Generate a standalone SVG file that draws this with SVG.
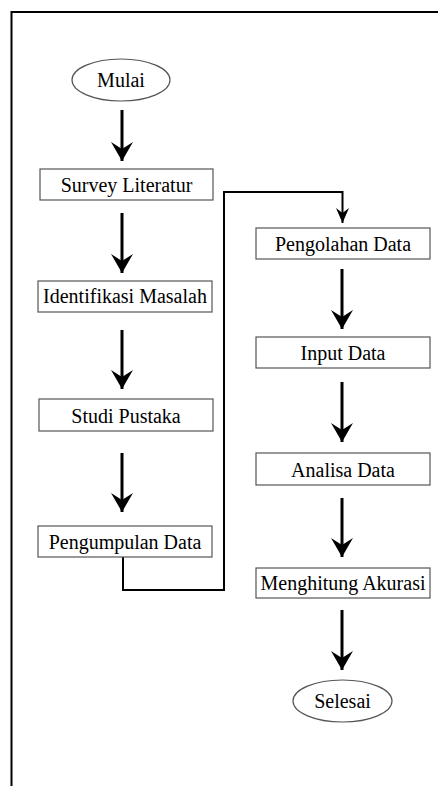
<svg xmlns="http://www.w3.org/2000/svg" width="439" height="786" viewBox="0 0 439 786">
<style>
  .box { fill: #fff; stroke: #555; stroke-width: 1.2; }
  .lbl { font-family: 'Liberation Serif', 'Times New Roman', serif; font-size: 20px; fill: #000; text-anchor: middle; }
  .arr { stroke: #000; stroke-width: 3; fill: none; marker-end: url(#big); }
  .conn { stroke: #000; stroke-width: 2; fill: none; }
</style>
<defs>
  <marker id="big" markerUnits="userSpaceOnUse" markerWidth="20" markerHeight="24" viewBox="0 -12 20 24" refX="19" refY="0" orient="auto">
    <path d="M0,-11 L19,0 L0,11 L7,0 Z" fill="#000"/>
  </marker>
  <marker id="small" markerUnits="userSpaceOnUse" markerWidth="16" markerHeight="14" viewBox="0 -7 16 14" refX="15" refY="0" orient="auto">
    <path d="M0,-6.5 L15,0 L0,6.5 L5,0 Z" fill="#000"/>
  </marker>
</defs>
<rect width="439" height="786" fill="#fff"/>
<path d="M11.5,786 V12 H438" fill="none" stroke="#000" stroke-width="2"/>

<g id="connectors">
  <line class="arr" x1="122" y1="110" x2="122" y2="161"/>
  <line class="arr" x1="122" y1="213" x2="122" y2="273"/>
  <line class="arr" x1="122" y1="330" x2="122" y2="389"/>
  <line class="arr" x1="122" y1="453" x2="122" y2="512"/>
  <line class="arr" x1="342" y1="269" x2="342" y2="329"/>
  <line class="arr" x1="342" y1="382" x2="342" y2="442"/>
  <line class="arr" x1="342" y1="498" x2="342" y2="557"/>
  <line class="arr" x1="342" y1="610" x2="342" y2="670"/>
  <path class="conn" d="M123,557 V590 H224 V192 H342.5 V223" marker-end="url(#small)"/>
</g>

<g id="mulai">
  <ellipse class="box" cx="121" cy="80" rx="49" ry="21"/>
  <text class="lbl" x="121" y="87">Mulai</text>
</g>
<g id="survey">
  <rect class="box" x="40" y="169" width="173" height="31"/>
  <text class="lbl" x="126.5" y="192">Survey Literatur</text>
</g>
<g id="identifikasi">
  <rect class="box" x="38" y="281" width="174" height="31"/>
  <text class="lbl" x="125" y="303">Identifikasi Masalah</text>
</g>
<g id="studi">
  <rect class="box" x="39" y="399" width="174" height="32"/>
  <text class="lbl" x="126" y="423">Studi Pustaka</text>
</g>
<g id="pengumpulan">
  <rect class="box" x="38" y="526" width="174" height="31"/>
  <text class="lbl" x="125" y="549">Pengumpulan Data</text>
</g>
<g id="pengolahan">
  <rect class="box" x="256" y="228" width="174" height="31"/>
  <text class="lbl" x="343" y="251">Pengolahan Data</text>
</g>
<g id="input">
  <rect class="box" x="256" y="337" width="174" height="31"/>
  <text class="lbl" x="343" y="360">Input Data</text>
</g>
<g id="analisa">
  <rect class="box" x="256" y="453" width="174" height="32"/>
  <text class="lbl" x="343" y="477">Analisa Data</text>
</g>
<g id="menghitung">
  <rect class="box" x="256" y="568" width="174" height="30"/>
  <text class="lbl" x="343" y="590">Menghitung Akurasi</text>
</g>
<g id="selesai">
  <ellipse class="box" cx="342.5" cy="701" rx="49.5" ry="21"/>
  <text class="lbl" x="342.5" y="708">Selesai</text>
</g>
</svg>
